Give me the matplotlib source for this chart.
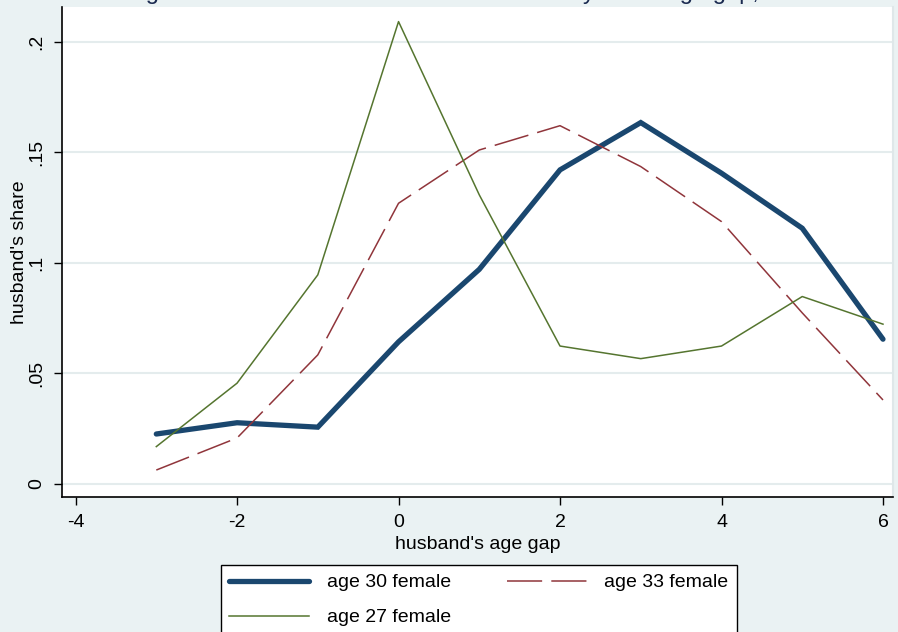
# Husband's share by husband's age gap, three female age groups (Stata s2color look)
import matplotlib.pyplot as plt

age_gap = [-3, -2, -1, 0, 1, 2, 3, 4, 5, 6]
share_age30 = [0.0226, 0.0277, 0.0257, 0.0643, 0.0971, 0.1421, 0.1635, 0.1406, 0.1157, 0.0655]
share_age33 = [0.0063, 0.0208, 0.0584, 0.1270, 0.1511, 0.1621, 0.1436, 0.1187, 0.0774, 0.0380]
share_age27 = [0.0169, 0.0456, 0.0946, 0.2092, 0.1308, 0.0624, 0.0567, 0.0624, 0.0848, 0.0723]

x_ticks = [-4, -2, 0, 2, 4, 6]
y_ticks = [0, 0.05, 0.1, 0.15, 0.2]
y_tick_labels = ["0", ".05", ".1", ".15", ".2"]

bg = '#eaf2f3'
plt.rcParams['font.family'] = ['Liberation Sans', 'DejaVu Sans']

fig = plt.figure(figsize=(8.98, 6.32), dpi=100, facecolor=bg)
ax = fig.add_axes([62 / 898, 1 - 497 / 632, 831 / 898, 490 / 632])
ax.set_facecolor('white')

# lines (green drawn last, on top)
l30, = ax.plot(age_gap, share_age30, color='#1a476f', lw=3.8, solid_joinstyle='miter',
               solid_capstyle='round', zorder=3)
l33, = ax.plot(age_gap, share_age33, color='#90353b', lw=1.1, linestyle=(0, (23, 6)), zorder=3)
l27, = ax.plot(age_gap, share_age27, color='#55752f', lw=1.1, zorder=3)

ax.set_xlim(-4.168, 6.124)
ax.set_ylim(-0.0059, 0.2158)
ax.set_xticks(x_ticks)
ax.set_xticklabels([str(t) for t in x_ticks])
ax.set_yticks(y_ticks)
ax.set_yticklabels(y_tick_labels, rotation=90, va='center')
ax.tick_params(axis='both', labelsize=14, length=6, width=1, direction='out', pad=6, color='black')
ax.grid(axis='y', color='#e4eced', lw=1.5, zorder=1)
ax.set_axisbelow(True)

for side in ['left', 'bottom']:
    ax.spines[side].set_linewidth(1.2)
    ax.spines[side].set_color('black')
ax.spines['top'].set_visible(False)
ax.spines['right'].set_color('#dfe7e9')
ax.spines['right'].set_linewidth(1.5)

ax.set_xlabel("husband's age gap", fontsize=14, labelpad=4)
ax.set_ylabel("husband's share", fontsize=14, labelpad=0.5)

# title is cut off by the top of the picture, only descenders show
fig.text(0.532, 1 + 1 / 632, "Figure 1: Husband's share of total income by wife's age gap, 1990s",
         ha='center', va='baseline', fontsize=17, color='#1a2a50')

leg = fig.legend([l30, l27, l33], ["age 30 female", "age 27 female", "age 33 female"],
                 loc='upper center', bbox_to_anchor=(479 / 898, 1 - 565 / 632), ncol=2,
                 fontsize=14, frameon=True, fancybox=False, handlelength=4.1,
                 handletextpad=0.9, columnspacing=2.9, labelspacing=0.9, borderpad=0.45,
                 borderaxespad=0)
leg.get_frame().set_edgecolor('black')
leg.get_frame().set_linewidth(1.0)
leg.get_frame().set_facecolor('white')
leg.get_frame().set_alpha(1)

plt.savefig("out.png", dpi=100, facecolor=bg)
